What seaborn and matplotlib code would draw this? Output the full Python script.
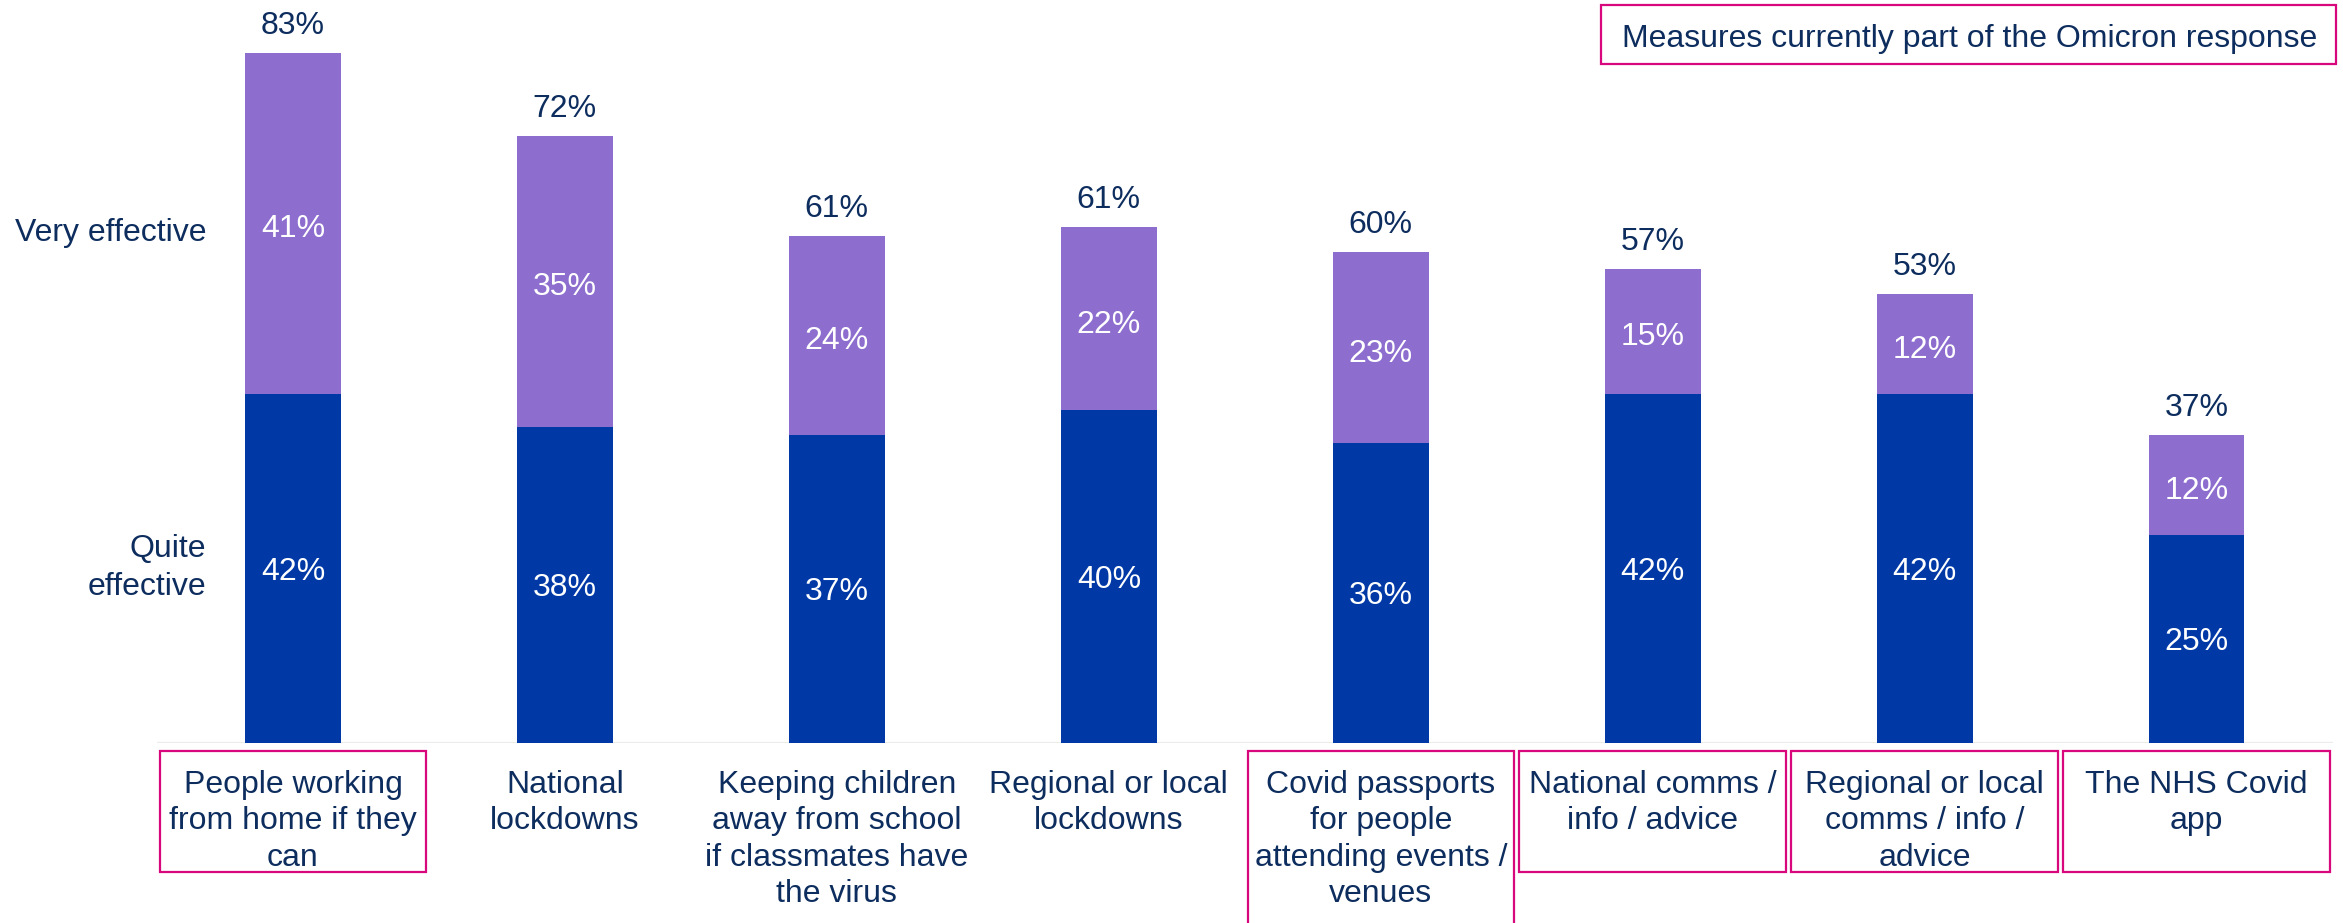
import matplotlib
matplotlib.use("Agg")
import matplotlib.pyplot as plt
from matplotlib.patches import Rectangle
from matplotlib.transforms import blended_transform_factory
import pandas as pd
import seaborn as sns

# Survey results: perceived effectiveness of each Covid measure (%)
measures = [
    "People working\nfrom home if they\ncan",
    "National\nlockdowns",
    "Keeping children\naway from school\nif classmates have\nthe virus",
    "Regional or local\nlockdowns",
    "Covid passports\nfor people\nattending events /\nvenues",
    "National comms /\ninfo / advice",
    "Regional or local\ncomms / info /\nadvice",
    "The NHS Covid\napp",
]
quite_effective = [42, 38, 37, 40, 36, 42, 42, 25]
very_effective = [41, 35, 24, 22, 23, 15, 12, 12]
net_effective = [83, 72, 61, 61, 60, 57, 53, 37]
part_of_omicron_response = [True, False, False, False, True, True, True, True]
series_names = ["Quite\neffective", "Very effective"]
highlight_note = "Measures currently part of the Omicron response"

BLUE = "#0038a6"
PURPLE = "#8d6ecf"
NAVY = "#0d2d5e"
MAGENTA = "#d9077c"

sns.set_theme(style="white")
plt.rcParams["font.family"] = ["Liberation Sans", "DejaVu Sans"]

df = pd.DataFrame({
    "measure": measures,
    "quite": quite_effective,
    "very": very_effective,
})
df["stack_top"] = df["quite"] + df["very"]

W, H = 2343, 923
fig = plt.figure(figsize=(W / 100, H / 100), dpi=100)
ax = fig.add_axes([157 / W, 180.5 / H, 2175.6 / W, 731 / H])

# Stacked bars: full stack in purple, lower "quite effective" part in blue on top
sns.barplot(data=df, x="measure", y="stack_top", color=PURPLE, saturation=1,
            width=0.352, linewidth=0, ax=ax)
sns.barplot(data=df, x="measure", y="quite", color=BLUE, saturation=1,
            width=0.352, linewidth=0, ax=ax)

ax.set_xlim(-0.5, len(measures) - 0.5)
ax.set_ylim(0, 88)
ax.set_xlabel("")
ax.set_ylabel("")
ax.set_xticks([])
ax.set_yticks([])
for s in ax.spines.values():
    s.set_visible(False)
ax.axhline(0, color="#ececec", lw=1.6, zorder=0.5)

fs = 23
for i, (q, v, t) in enumerate(zip(quite_effective, very_effective, net_effective)):
    ax.text(i, q / 2, f"{q}%", color="white", ha="center",
            va="center_baseline", fontsize=fs)
    ax.text(i, q + v / 2 - 0.3, f"{v}%", color="white", ha="center",
            va="center_baseline", fontsize=fs)
    ax.annotate(f"{t}%", (i, q + v), xytext=(0, 22), textcoords="offset points",
                ha="center", va="center_baseline", fontsize=fs, color=NAVY)

# Series names beside the first bar's segments
q0, v0 = quite_effective[0], very_effective[0]
ax.text(-0.318, q0 / 2, series_names[0], ha="right", va="center", ma="right",
        fontsize=fs, color=NAVY, linespacing=1.38)
ax.text(-0.318, q0 + v0 / 2 - 0.8, series_names[1], ha="right",
        va="center_baseline", fontsize=fs, color=NAVY)

# Category labels under the bars, boxed when part of the Omicron response
trans = blended_transform_factory(ax.transData, fig.transFigure)
box_top = 1 - 750.5 / H
for i, (name, boxed) in enumerate(zip(measures, part_of_omicron_response)):
    ax.text(i, 1 - 770 / H, name, transform=trans, ha="center", va="top",
            ma="center", fontsize=fs, color=NAVY, linespacing=1.28, clip_on=False)
    if boxed:
        lines = name.count("\n") + 1
        bottom = 1 - 872 / H if lines <= 3 else -0.05
        ax.add_patch(Rectangle((i - 0.49, bottom), 0.98, box_top - bottom,
                               transform=trans, fill=False, edgecolor=MAGENTA,
                               lw=1.6, clip_on=False))

# Key for the boxed labels
fig.patches.append(Rectangle((1600.5 / W, 1 - 64 / H), 735.5 / W, 59 / H,
                             transform=fig.transFigure, fill=False,
                             edgecolor=MAGENTA, lw=1.6))
fig.text(1970 / W, 1 - 36 / H, highlight_note, ha="center", va="center_baseline",
         fontsize=23, color=NAVY)

fig.savefig("out.png", dpi=100)
